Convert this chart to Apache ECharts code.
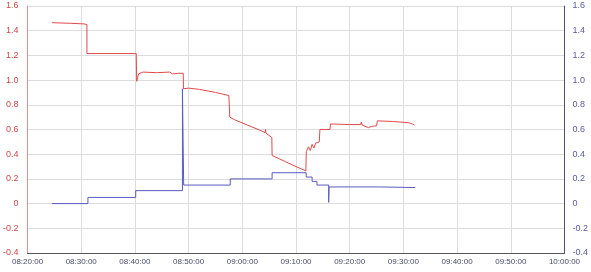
<!DOCTYPE html>
<html><head><meta charset="utf-8">
<script src="https://cdn.jsdelivr.net/npm/echarts@6/dist/echarts.min.js"></script>
<style>html,body{margin:0;padding:0;background:#fff}#c{width:591px;height:272px}</style>
</head><body><div id="c"></div>
<script>
var xTickLabels = ["08:20:00","08:30:00","08:40:00","08:50:00","09:00:00","09:10:00","09:20:00","09:30:00","09:40:00","09:50:00","10:00:00"];
var redTimes = ["08:24:32","08:28:00","08:30:30","08:31:04","08:31:04","08:35:00","08:40:15","08:40:20","08:40:41","08:41:30","08:44:00","08:46:30","08:47:00","08:48:00","08:49:00","08:49:02","08:50:00","08:52:00","08:55:00","08:57:30","08:57:40","08:58:30","09:01:00","09:03:30","09:04:15","09:04:20","09:04:25","09:05:30","09:05:33","09:08:00","09:10:00","09:11:50","09:11:55","09:12:20","09:12:40","09:13:00","09:13:20","09:13:40","09:14:20","09:14:27","09:16:20","09:16:26","09:20:00","09:22:00","09:22:10","09:22:20","09:23:30","09:24:00","09:25:00","09:25:09","09:28:00","09:31:00","09:31:20","09:31:40","09:32:05"];
var redValues = [1.465,1.46,1.455,1.45,1.215,1.215,1.215,0.99,1.05,1.065,1.06,1.065,1.05,1.055,1.055,0.93,0.935,0.925,0.9,0.875,0.70,0.68,0.635,0.59,0.575,0.60,0.57,0.535,0.39,0.34,0.30,0.265,0.42,0.46,0.43,0.48,0.45,0.49,0.50,0.60,0.60,0.645,0.64,0.64,0.66,0.635,0.615,0.625,0.63,0.67,0.665,0.655,0.67,0.645,0.635];
var blueTimes = ["08:24:32","08:31:15","08:31:15","08:40:09","08:40:09","08:48:51","08:48:51","08:49:05","08:49:05","08:57:45","08:57:45","09:05:33","09:05:33","09:11:54","09:11:54","09:13:00","09:13:00","09:13:54","09:13:54","09:16:05","09:16:05","09:16:10","09:16:10","09:25:31","09:25:31","09:32:13"];
var blueValues = [0,0,0.05,0.05,0.105,0.105,0.93,0.93,0.15,0.15,0.20,0.20,0.25,0.25,0.215,0.215,0.18,0.18,0.15,0.15,0.01,0.01,0.135,0.135,0.13,0.13];

function toSec(s){var p=s.split(':');return (+p[0])*3600+(+p[1])*60+(+p[2]);}
function pad(n){return (n<10?'0':'')+n;}
function fmtTime(v){var h=Math.floor(v/3600),m=Math.floor((v%3600)/60),s=Math.round(v%60);return pad(h)+':'+pad(m)+':'+pad(s);}
function zip(t,v){return t.map(function(x,i){return [toSec(x),v[i]];});}
function yfmt(v){return Math.abs(v)<1e-9?'0':v.toFixed(1);}

var chart = echarts.init(document.getElementById('c'), null, {renderer:'canvas'});
chart.setOption({
  animation:false,
  grid:{left:21,right:19,top:6,bottom:19,containLabel:false},
  xAxis:{type:'value',min:toSec(xTickLabels[0]),max:toSec(xTickLabels[xTickLabels.length-1]),interval:600,
    axisLine:{show:true,onZero:false,lineStyle:{color:'#555',width:1}},
    axisTick:{show:false},
    axisLabel:{color:'#4a4a6a',fontSize:8,fontFamily:'Liberation Sans',margin:5,formatter:fmtTime,showMinLabel:true,showMaxLabel:true},
    splitLine:{show:true,lineStyle:{color:'#dcdcdc',width:1}}},
  yAxis:[
    {type:'value',min:-0.4,max:1.6,interval:0.2,position:'left',
     axisLine:{show:true,onZero:false,lineStyle:{color:'#f08a8a',width:1}},
     axisTick:{show:false},
     axisLabel:{color:'#d04848',fontSize:9,fontFamily:'Liberation Sans',margin:9,formatter:yfmt},
     splitLine:{show:true,lineStyle:{color:'#dcdcdc',width:1}}},
    {type:'value',min:-0.4,max:1.6,interval:0.2,position:'right',
     axisLine:{show:true,onZero:false,lineStyle:{color:'#50506a',width:1}},
     axisTick:{show:false},
     axisLabel:{color:'#5a5aa0',fontSize:9,fontFamily:'Liberation Sans',margin:8,formatter:yfmt},
     splitLine:{show:false}}
  ],
  series:[
    {type:'line',yAxisIndex:0,data:zip(redTimes,redValues),showSymbol:false,symbol:'none',
     lineStyle:{color:'#e04a4a',width:1},z:3},
    {type:'line',yAxisIndex:1,data:zip(blueTimes,blueValues),showSymbol:false,symbol:'none',
     lineStyle:{color:'#5a5ac0',width:1},z:2}
  ]
});
</script></body></html>
